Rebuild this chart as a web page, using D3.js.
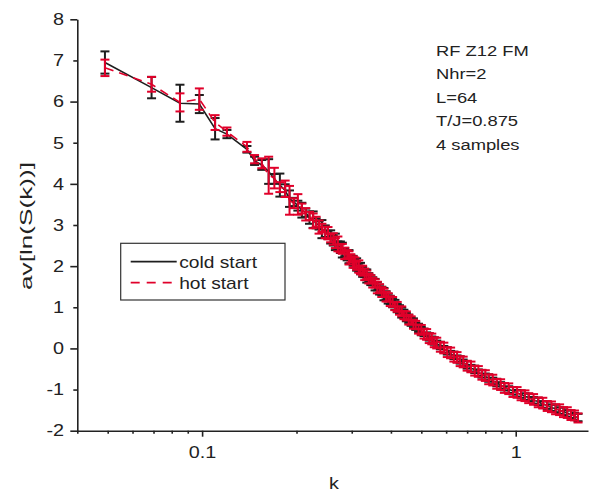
<!DOCTYPE html>
<html>
<head>
<meta charset="utf-8">
<script src="https://cdn.jsdelivr.net/npm/d3@7"></script>
<style>
body { margin: 0; background: #fff; }
text { font-family: "Liberation Sans", Arial, sans-serif; fill: #222; }
</style>
</head>
<body>
<script>
// wave numbers k
var kValues = [0.049, 0.069, 0.085, 0.098, 0.110, 0.120, 0.139, 0.147, 0.155, 0.163, 0.170, 0.177, 0.184, 0.190, 0.196,
	0.202, 0.208, 0.214, 0.220, 0.226, 0.231, 0.236, 0.241, 0.247,
	0.252, 0.257, 0.262, 0.266, 0.271, 0.276, 0.280, 0.285, 0.290, 0.294, 0.298,
	0.303, 0.307, 0.311, 0.316, 0.320, 0.325, 0.330, 0.335, 0.340, 0.345,
	0.350, 0.356, 0.362, 0.368, 0.374, 0.380, 0.386, 0.392, 0.398,
	0.405, 0.412, 0.419, 0.426, 0.433, 0.440, 0.448,
	0.456, 0.464, 0.472, 0.480, 0.490, 0.500,
	0.510, 0.520, 0.530, 0.540, 0.550,
	0.560, 0.575, 0.590,
	0.605, 0.620, 0.635,
	0.650, 0.665, 0.680, 0.700,
	0.720, 0.740, 0.760, 0.780, 0.800,
	0.820, 0.845, 0.870, 0.895,
	0.920, 0.950, 0.980,
	1.010, 1.040, 1.070, 1.100,
	1.140, 1.180,
	1.220, 1.260, 1.300,
	1.340, 1.380, 1.420, 1.460, 1.500, 1.540, 1.580];

// cold start: av[ln(S(k))] and error
var coldValues = [6.95, 6.34, 5.96, 5.94, 5.34, 5.21, 4.84, 4.56, 4.46, 4.30, 4.12, 3.97, 3.84, 3.64, 3.56,
	3.47, 3.36, 3.30, 3.18, 3.13, 3.04, 2.99, 2.90, 2.85,
	2.76, 2.71, 2.62, 2.59, 2.50, 2.46, 2.39, 2.34, 2.26, 2.23, 2.16,
	2.13, 2.06, 2.04, 1.96, 1.94, 1.86, 1.83, 1.76, 1.73, 1.66,
	1.63, 1.55, 1.51, 1.43, 1.40, 1.32, 1.29, 1.21, 1.18,
	1.10, 1.06, 0.98, 0.95, 0.87, 0.84, 0.76,
	0.72, 0.65, 0.62, 0.54, 0.50, 0.42,
	0.39, 0.31, 0.28, 0.21, 0.18,
	0.11, 0.07, -0.02,
	-0.06, -0.14, -0.17,
	-0.25, -0.28, -0.35, -0.40,
	-0.48, -0.51, -0.59, -0.62, -0.69,
	-0.72, -0.79, -0.83, -0.90,
	-0.93, -1.00, -1.03,
	-1.09, -1.11, -1.17, -1.19,
	-1.26, -1.29,
	-1.36, -1.38, -1.44,
	-1.46, -1.51, -1.53, -1.58, -1.60, -1.65, -1.68];
var coldErrors = [0.27, 0.26, 0.45, 0.22, 0.26, 0.10, 0.08, 0.10, 0.12, 0.30, 0.12, 0.28, 0.15, 0.20, 0.10,
	0.12, 0.18, 0.10, 0.15, 0.20, 0.12, 0.10, 0.22, 0.14,
	0.10, 0.16, 0.12, 0.20, 0.10, 0.14, 0.18, 0.10, 0.12, 0.16, 0.10,
	0.12, 0.10, 0.15, 0.10, 0.14, 0.12, 0.10, 0.16, 0.10, 0.12,
	0.10, 0.14, 0.10, 0.12, 0.10, 0.15, 0.10, 0.12, 0.10,
	0.10, 0.12, 0.10, 0.10, 0.12, 0.10, 0.10,
	0.10, 0.10, 0.11, 0.09, 0.10, 0.10,
	0.09, 0.08, 0.09, 0.08, 0.09,
	0.08, 0.09, 0.08,
	0.09, 0.08, 0.09,
	0.08, 0.09, 0.08, 0.09,
	0.08, 0.09, 0.08, 0.09, 0.08,
	0.09, 0.08, 0.09, 0.08,
	0.09, 0.08, 0.09,
	0.08, 0.09, 0.08, 0.09,
	0.08, 0.09,
	0.08, 0.09, 0.08,
	0.09, 0.08, 0.09, 0.08, 0.09, 0.08, 0.09];

// hot start: av[ln(S(k))] and error
var hotValues = [6.82, 6.42, 5.98, 6.06, 5.49, 5.27, 4.90, 4.60, 4.50, 4.21, 4.14, 3.92, 3.88, 3.60, 3.53,
	3.50, 3.40, 3.26, 3.22, 3.10, 3.08, 2.95, 2.93, 2.82,
	2.80, 2.68, 2.66, 2.56, 2.54, 2.43, 2.42, 2.31, 2.29, 2.20, 2.19,
	2.10, 2.09, 2.01, 1.99, 1.91, 1.89, 1.80, 1.79, 1.70, 1.68,
	1.60, 1.58, 1.48, 1.46, 1.37, 1.35, 1.26, 1.24, 1.15,
	1.13, 1.03, 1.01, 0.92, 0.90, 0.81, 0.79,
	0.70, 0.68, 0.59, 0.57, 0.47, 0.45,
	0.36, 0.34, 0.25, 0.23, 0.15,
	0.13, 0.04, 0.01,
	-0.09, -0.11, -0.20,
	-0.22, -0.31, -0.33, -0.42,
	-0.45, -0.54, -0.56, -0.64, -0.66,
	-0.75, -0.77, -0.86, -0.88,
	-0.96, -0.98, -1.06,
	-1.07, -1.14, -1.15, -1.21,
	-1.24, -1.31,
	-1.33, -1.40, -1.42,
	-1.48, -1.49, -1.55, -1.56, -1.62, -1.63, -1.69];
var hotErrors = [0.20, 0.18, 0.22, 0.26, 0.18, 0.10, 0.12, 0.10, 0.12, 0.45, 0.25, 0.12, 0.20, 0.35, 0.12,
	0.25, 0.12, 0.15, 0.10, 0.18, 0.12, 0.16, 0.10, 0.14,
	0.15, 0.10, 0.14, 0.12, 0.18, 0.10, 0.12, 0.14, 0.10, 0.16, 0.10,
	0.14, 0.12, 0.10, 0.15, 0.10, 0.12, 0.14, 0.10, 0.12, 0.10,
	0.12, 0.10, 0.14, 0.10, 0.12, 0.10, 0.12, 0.10, 0.12,
	0.12, 0.10, 0.12, 0.10, 0.12, 0.10, 0.11,
	0.12, 0.10, 0.11, 0.10, 0.11, 0.12,
	0.12, 0.13, 0.12, 0.13, 0.12,
	0.13, 0.12, 0.13,
	0.12, 0.13, 0.12,
	0.13, 0.12, 0.13, 0.12,
	0.13, 0.12, 0.13, 0.12, 0.13,
	0.12, 0.13, 0.12, 0.13,
	0.12, 0.13, 0.12,
	0.13, 0.12, 0.13, 0.12,
	0.13, 0.12,
	0.13, 0.12, 0.13,
	0.12, 0.13, 0.12, 0.13, 0.12, 0.12, 0.11];

var xMajorTicks = [0.1, 1];
var xMinorTicks = [0.04, 0.05, 0.06, 0.07, 0.08, 0.09, 0.2, 0.3, 0.4, 0.5, 0.6, 0.7, 0.8, 0.9];
var yMajorTicks = [-2, 0, 2, 4, 6, 8];
var yMinorTicks = [-1, 1, 3, 5, 7];
var seriesNames = ["cold start", "hot start"];
var infoLines = ["RF Z12 FM", "Nhr=2", "L=64", "T/J=0.875", "4 samples"];

var coldColor = "#1e1e1e", hotColor = "#e0002a";
var textStretch = 1.2; // the original figure is wider than tall in its lettering

var margin = {top: 19.3, left: 77.3},
	width = 510.7,
	height = 411.4;

var x = d3.scaleLog().domain([0.04, 1.7]).range([0, width]);
var y = d3.scaleLinear().domain([-2, 8]).range([height, 0]);

var svg = d3.select("body").append("svg")
	.attr("width", 593)
	.attr("height", 493);

var g = svg.append("g")
	.attr("transform", "translate(" + margin.left + "," + margin.top + ")");

function makeSeries(vals, errs) {
	return kValues.map(function (k, i) { return {k: k, v: vals[i], e: errs[i]}; });
}
var cold = makeSeries(coldValues, coldErrors);
var hot = makeSeries(hotValues, hotErrors);

// widen text around its anchor x
function stretch(sel) {
	sel.each(function () {
		var t = d3.select(this);
		var ax = +t.attr("x") || 0;
		t.attr("transform", "translate(" + ax + ",0) scale(" + textStretch + ",1) translate(" + (-ax) + ",0)");
	});
}

var line = d3.line()
	.x(function (d) { return x(d.k); })
	.y(function (d) { return y(d.v); });

function drawBars(data, color, cls) {
	var bars = g.append("g").attr("class", cls)
		.attr("stroke", color)
		.attr("stroke-width", 2)
		.selectAll("g")
		.data(data)
		.enter().append("g");
	bars.append("line")
		.attr("x1", function (d) { return x(d.k); })
		.attr("x2", function (d) { return x(d.k); })
		.attr("y1", function (d) { return y(d.v - d.e); })
		.attr("y2", function (d) { return y(d.v + d.e); });
	bars.append("line")
		.attr("x1", function (d) { return x(d.k) - 4.5; })
		.attr("x2", function (d) { return x(d.k) + 4.5; })
		.attr("y1", function (d) { return y(d.v - d.e); })
		.attr("y2", function (d) { return y(d.v - d.e); });
	bars.append("line")
		.attr("x1", function (d) { return x(d.k) - 4.5; })
		.attr("x2", function (d) { return x(d.k) + 4.5; })
		.attr("y1", function (d) { return y(d.v + d.e); })
		.attr("y2", function (d) { return y(d.v + d.e); });
}

g.append("path")
	.datum(cold)
	.attr("fill", "none")
	.attr("stroke", coldColor)
	.attr("stroke-width", 1.6)
	.attr("d", line);
drawBars(cold, coldColor, "cold-bars");

g.append("path")
	.datum(hot)
	.attr("fill", "none")
	.attr("stroke", hotColor)
	.attr("stroke-width", 1.6)
	.attr("stroke-dasharray", "9,6")
	.attr("d", line);
drawBars(hot, hotColor, "hot-bars");

// axes
function styleAxis(sel) {
	sel.selectAll("path, line").attr("stroke", "#222").attr("stroke-width", 1.6);
	sel.selectAll("text").attr("fill", "#222").style("font-size", "16.5px")
		.style("font-family", "'Liberation Sans', Arial, sans-serif")
		.call(stretch);
}

var plainNum = function (d) { return String(d); };

g.append("g")
	.attr("transform", "translate(0," + height + ")")
	.call(d3.axisBottom(x).tickValues(xMinorTicks).tickSize(3).tickSizeOuter(0).tickFormat(""))
	.call(styleAxis);

g.append("g")
	.attr("transform", "translate(0," + height + ")")
	.call(d3.axisBottom(x).tickValues(xMajorTicks).tickSize(6).tickSizeOuter(0).tickPadding(10).tickFormat(plainNum))
	.call(styleAxis)
	.call(function (s) { s.select(".domain").remove(); });

g.append("g")
	.call(d3.axisLeft(y).tickValues(yMajorTicks).tickSize(7).tickSizeOuter(0).tickPadding(6.3).tickFormat(plainNum))
	.call(styleAxis);

g.append("g")
	.call(d3.axisLeft(y).tickValues(yMinorTicks).tickSize(4).tickSizeOuter(0).tickPadding(9.3).tickFormat(plainNum))
	.call(styleAxis)
	.call(function (s) { s.select(".domain").remove(); });

svg.append("text")
	.attr("x", 334)
	.attr("y", 489)
	.attr("text-anchor", "middle")
	.style("font-size", "16.5px")
	.text("k")
	.call(stretch);

svg.append("text")
	.attr("transform", "translate(32,226) rotate(-90)")
	.attr("text-anchor", "middle")
	.attr("textLength", 128)
	.attr("lengthAdjust", "spacingAndGlyphs")
	.style("font-size", "17px")
	.text("av[ln(S(k))]");

// legend
var legend = svg.append("g").attr("transform", "translate(120.7,243.3)");
legend.append("rect")
	.attr("width", 164.3)
	.attr("height", 56.7)
	.attr("fill", "#fff")
	.attr("stroke", "#333")
	.attr("stroke-width", 1.2);
legend.selectAll("g.item")
	.data(seriesNames)
	.enter().append("g")
	.attr("class", "item")
	.each(function (name, i) {
		var item = d3.select(this).attr("transform", "translate(0," + (18.4 + i * 21) + ")");
		item.append("line")
			.attr("x1", 10).attr("x2", 56)
			.attr("stroke", i === 0 ? coldColor : hotColor)
			.attr("stroke-width", 1.8)
			.attr("stroke-dasharray", i === 0 ? null : "9,7");
		item.append("text")
			.attr("x", 58.5)
			.attr("y", 5.8)
			.style("font-size", "16px")
			.text(name)
			.call(stretch);
	});

// info block
svg.append("g").selectAll("text")
	.data(infoLines)
	.enter().append("text")
	.attr("x", 436)
	.attr("y", function (d, i) { return 56 + i * 23.5; })
	.style("font-size", "15.3px")
	.text(function (d) { return d; })
	.call(stretch);
</script>
</body>
</html>
